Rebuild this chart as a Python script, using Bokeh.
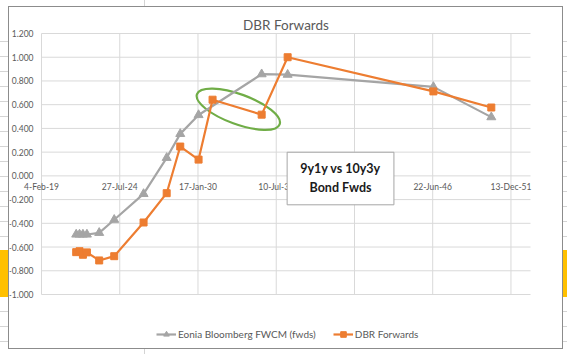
import pandas as pd
from bokeh.plotting import figure
from bokeh.models import (Range1d, ColumnDataSource, Label, BoxAnnotation, Legend, LegendItem)
from bokeh.core.properties import value
from bokeh.embed import file_html
from bokeh.resources import INLINE

# ---------------- data ----------------
eonia_dates = ["2021-07-10", "2021-10-03", "2021-12-29", "2022-04-10", "2023-02-18",
               "2024-03-08", "2026-03-28", "2027-11-09", "2028-10-21", "2030-02-01",
               "2034-07-03", "2036-04-27", "2046-07-10", "2050-07-29"]
eonia_values = [-0.494, -0.494, -0.494, -0.494, -0.480, -0.370, -0.152, 0.152, 0.354,
                0.513, 0.857, 0.853, 0.750, 0.495]

dbr_dates = ["2021-07-10", "2021-10-03", "2021-12-29", "2022-04-10", "2023-02-18",
             "2024-03-08", "2026-03-28", "2027-11-09", "2028-10-21", "2030-02-01",
             "2031-01-25", "2034-07-03", "2036-04-27", "2046-07-10", "2050-07-29"]
dbr_values = [-0.643, -0.635, -0.665, -0.645, -0.713, -0.677, -0.393, -0.146, 0.247,
              0.137, 0.642, 0.516, 1.000, 0.712, 0.576]

x_tick_dates = ["2019-02-04", "2024-07-27", "2030-01-17", "2035-07-10", "2040-12-31",
                "2046-06-22", "2051-12-13"]
x_tick_labels = ["4-Feb-19", "27-Jul-24", "17-Jan-30", "10-Jul-35", "31-Dec-40",
                 "22-Jun-46", "13-Dec-51"]
y_ticks = [-1.0, -0.8, -0.6, -0.4, -0.2, 0.0, 0.2, 0.4, 0.6, 0.8, 1.0, 1.2]
y_tick_labels = ["-1.000", "-0.800", "-0.600", "-0.400", "-0.200", "0.000",
                 "0.200", "0.400", "0.600", "0.800", "1.000", "1.200"]

x_start, x_end = "2019-02-04", "2053-04-26"
y_start, y_end = -1.0, 1.2

series_names = ["Eonia Bloomberg FWCM (fwds)", "DBR Forwards"]
title_text = "DBR Forwards"
note_text = "9y1y vs 10y3y\nBond Fwds"

# annotation placement (callout box and highlight ellipse)
note_box = dict(left="2036-04-14", right="2043-10-05", bottom=-0.244, top=0.199)
note_pos = dict(x="2040-01-08", y=-0.02)
ellipse_pos = dict(x="2032-11-13", y=0.562)

# ---------------- layout / styles ----------------
GRAY = "#a5a5a5"
ORANGE = "#ed7d31"
GREEN = "#70ad47"
GRID = "#d9d9d9"
TXT = "#595959"
FONT = "Lato"

W, H = 553, 341                      # chart area (inside the grey border)
PL, PR, PT, PB = 32, 521, 26, 287    # plot area inside the chart, in pixels

# surrounding spreadsheet decoration (pure CSS shadows around the chart object)
CX, CY = 9 + W / 2, 7 + H / 2
cell = "#d4d4d4"
shadows = ["0 0 0 1px #8c8c8c"]
shadows += ["-31px -175px 0 -167px #ffffff", "-32px -175px 0 -167px " + cell,
            "-31px 175px 0 -167px #ffffff", "-32px 175px 0 -167px " + cell]
shadows += ["-300px 96px 0 -147px #ffc000", "407px 96px 0 -147px #ffc000"]
for r in range(41, 342, 15):
    if 250 <= r <= 297:
        continue
    oy = r - 177
    shadows.append(f"-250px {oy}px 0 -170px {cell}")
    shadows.append(f"384px {oy}px 0 -170px {cell}")

to_dt = lambda s: pd.to_datetime(s)
xs, xe = to_dt(x_start), to_dt(x_end)
dx = (xe - xs) / (PR - PL)
dy = (y_end - y_start) / (PB - PT)
x_range = Range1d(start=xs - dx * PL, end=xe + dx * (W - PR))
y_range = Range1d(start=y_start - dy * (H - PB), end=y_end + dy * PT)

p = figure(width=W, height=H, x_axis_type="datetime",
           x_range=x_range, y_range=y_range,
           x_axis_location=None, y_axis_location=None,
           output_backend="svg", toolbar_location=None,
           min_border=0,
           styles={"margin-left": "9px", "margin-top": "7px",
                   "box-shadow": ", ".join(shadows)})
p.background_fill_color = "white"
p.border_fill_color = "white"
p.outline_line_color = None
p.grid.visible = False

# grid lines of the plot area
xt = pd.to_datetime(x_tick_dates)
p.segment(x0=[xs] * len(y_ticks), x1=[xe] * len(y_ticks), y0=y_ticks, y1=y_ticks,
          line_color=GRID, line_width=1)
p.segment(x0=xt, x1=xt, y0=[y_start] * len(xt), y1=[y_end] * len(xt),
          line_color=GRID, line_width=1)

# y tick labels
p.text(x=[xs] * len(y_ticks), y=y_ticks, text=y_tick_labels, x_offset=-8,
       text_align="right", text_baseline="middle",
       text_font=value(FONT), text_font_size="8.5px", text_color=TXT)
# x tick labels on the zero line
p.text(x=xt, y=[0.0] * len(xt), text=x_tick_labels, y_offset=11,
       text_align="center", text_baseline="middle",
       text_font=value(FONT), text_font_size="8.5px", text_color=TXT)

# highlight ellipse
p.ellipse(x=[to_dt(ellipse_pos["x"])], y=[ellipse_pos["y"]], width=88, height=30,
          width_units="screen", height_units="screen", angle=-0.35,
          fill_color=None, line_color=GREEN, line_width=2.2)

# series
e_src = ColumnDataSource(dict(x=pd.to_datetime(eonia_dates), y=eonia_values))
d_src = ColumnDataSource(dict(x=pd.to_datetime(dbr_dates), y=dbr_values))

g_line = p.line("x", "y", source=e_src, line_color=GRAY, line_width=2.2)
g_pts = p.scatter("x", "y", source=e_src, marker="triangle", size=9,
                  fill_color=GRAY, line_color=GRAY)
o_line = p.line("x", "y", source=d_src, line_color=ORANGE, line_width=2.2)
o_pts = p.scatter("x", "y", source=d_src, marker="square", size=7,
                  fill_color=ORANGE, line_color=ORANGE)

# title
p.add_layout(Label(x=xs + (xe - xs) / 2, y=y_end, y_offset=9, text=title_text,
                   text_align="center", text_baseline="middle",
                   text_font=FONT, text_font_size="13.5px", text_color=TXT))

# callout box
p.add_layout(BoxAnnotation(left=to_dt(note_box["left"]), right=to_dt(note_box["right"]),
                           bottom=note_box["bottom"], top=note_box["top"],
                           fill_color="white", fill_alpha=1.0,
                           line_color="#a6a6a6", line_width=1, line_alpha=1.0))
p.add_layout(Label(x=to_dt(note_pos["x"]), y=note_pos["y"], text=note_text,
                   text_align="center", text_baseline="middle",
                   text_font=FONT, text_font_style="bold", text_font_size="12.5px",
                   text_color="#1a1a1a", text_line_height=1.25))

legend = Legend(items=[LegendItem(label=series_names[0], renderers=[g_line, g_pts]),
                       LegendItem(label=series_names[1], renderers=[o_line, o_pts])],
                orientation="horizontal", location=(147, 7))
legend.background_fill_alpha = 0
legend.border_line_color = None
legend.padding = 0
legend.margin = 0
legend.spacing = 17
legend.glyph_width = 20
legend.glyph_height = 14
legend.label_height = 14
legend.label_standoff = 2
legend.label_text_font = FONT
legend.label_text_font_size = "10px"
legend.label_text_color = TXT
p.add_layout(legend)

open("out.html", "w").write(file_html(p, INLINE))
